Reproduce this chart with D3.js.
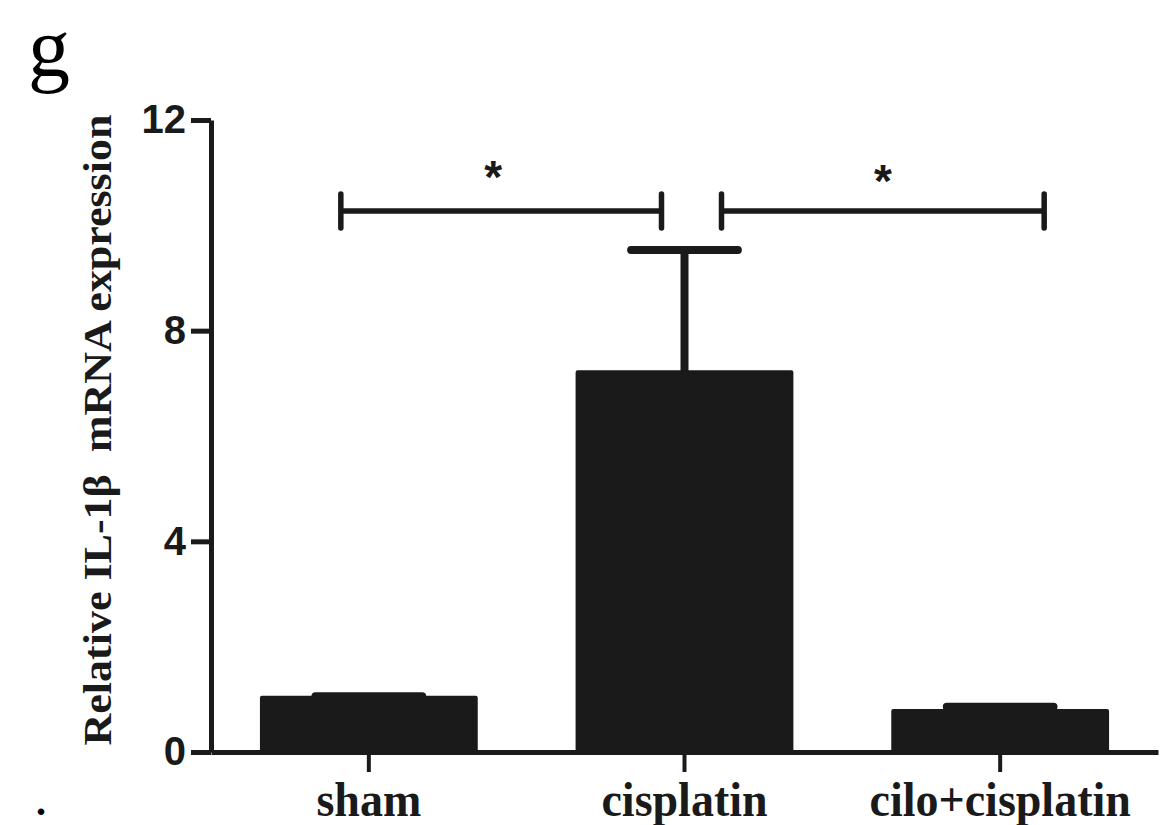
<!DOCTYPE html>
<html>
<head>
<meta charset="utf-8">
<script src="https://cdn.jsdelivr.net/npm/d3@7"></script>
<style>
  html, body { margin: 0; padding: 0; background: #ffffff; }
  svg { display: block; }
</style>
</head>
<body>
<svg id="chart" width="1172" height="825"></svg>
<script>
// ---- data ----
const categories = ["sham", "cisplatin", "cilo+cisplatin"];
const means = [1.03, 7.21, 0.78];
const sems = [0.03, 2.32, 0.08];
const yTicks = [0, 4, 8, 12];
const yLabel = "Relative IL-1\u03b2  mRNA expression";
const panelLabel = "g";
const sigFrom = ["sham", "cisplatin"];
const sigTo = ["cisplatin", "cilo+cisplatin"];
const sigLevel = [10.27, 10.27];
const sigText = ["*", "*"];

// ---- layout ----
const ink = "#1a1a1a";
const svg = d3.select("#chart");
const y = d3.scaleLinear().domain([0, 12]).range([752, 120]);
const x = d3.scaleBand().domain(categories).range([211, 1158])
  .paddingInner(0.31).paddingOuter(0.155);
const bw = x.bandwidth();
const cx = c => x(c) + bw / 2;

// bars
svg.append("g").selectAll("rect").data(categories).join("rect")
  .attr("x", d => x(d) + 2)
  .attr("width", bw - 4)
  .attr("y", (d, i) => y(means[i]))
  .attr("height", (d, i) => y(0) - y(means[i]))
  .attr("fill", ink).attr("stroke", ink)
  .attr("stroke-width", 4).attr("stroke-linejoin", "round");

// error bars (upper only)
const eg = svg.append("g").attr("stroke", ink).attr("stroke-width", 8).attr("stroke-linecap", "round");
categories.forEach((c, i) => {
  const top = y(means[i] + sems[i]);
  eg.append("line").attr("x1", cx(c)).attr("x2", cx(c))
    .attr("y1", y(means[i])).attr("y2", top).attr("stroke-linecap", "butt");
  const half = bw * 0.245;
  eg.append("line").attr("x1", cx(c) - half).attr("x2", cx(c) + half)
    .attr("y1", top).attr("y2", top);
});

// y axis
const yAxis = svg.append("g").attr("transform", "translate(211,0)")
  .call(d3.axisLeft(y).tickValues(yTicks).tickSize(20).tickSizeOuter(0).tickPadding(5).tickFormat(d3.format("d")));
yAxis.select(".domain").attr("stroke", ink).attr("stroke-width", 5);
yAxis.selectAll(".tick line").attr("stroke", ink).attr("stroke-width", 5);
yAxis.selectAll(".tick text").attr("fill", ink)
  .style("font-family", "'Liberation Sans', Arial, sans-serif")
  .style("font-weight", "bold").style("font-size", "40px");

// x axis
const xAxis = svg.append("g").attr("transform", "translate(0,752)")
  .call(d3.axisBottom(x).tickSize(20).tickSizeOuter(0).tickFormat(""));
xAxis.select(".domain").attr("stroke", ink).attr("stroke-width", 5);
xAxis.selectAll(".tick line").attr("stroke", ink).attr("stroke-width", 4);

// x labels
svg.append("g").selectAll("text").data(categories).join("text")
  .attr("transform", d => `translate(${cx(d)},816) scale(1,1.06)`)
  .attr("text-anchor", "middle").attr("fill", ink)
  .style("font-family", "'Liberation Serif', 'Times New Roman', serif")
  .style("font-weight", "bold").style("font-size", "46px")
  .text(d => d);

// y label
svg.append("text")
  .attr("transform", "translate(111,430) rotate(-90) scale(1,0.92)")
  .attr("text-anchor", "middle").attr("fill", ink)
  .style("white-space", "pre")
  .style("font-family", "'Liberation Serif', 'Times New Roman', serif")
  .style("font-weight", "bold").style("font-size", "44px")
  .text(yLabel);

// significance brackets
const offFrom = [-28, 37], offTo = [-23, 44];
const bg = svg.append("g").attr("stroke", ink).attr("stroke-width", 5.5).attr("fill", "none");
sigFrom.forEach((f, i) => {
  const x1 = cx(f) + offFrom[i], x2 = cx(sigTo[i]) + offTo[i], yy = y(sigLevel[i]);
  bg.append("line").attr("x1", x1).attr("x2", x2).attr("y1", yy).attr("y2", yy);
  [x1, x2].forEach(xx => bg.append("line").attr("x1", xx).attr("x2", xx)
    .attr("y1", yy - 17).attr("y2", yy + 17).attr("stroke-linecap", "round"));
  svg.append("text").attr("x", (x1 + x2) / 2 - (i === 0 ? 8 : 0)).attr("y", yy - 16 + (i === 0 ? -2 : 2))
    .attr("text-anchor", "middle").attr("fill", ink)
    .style("font-family", "'Liberation Sans', Arial, sans-serif")
    .style("font-weight", "bold").style("font-size", "46px")
    .text(sigText[i]);
});

// panel label and dot
svg.append("text").attr("x", 28).attr("y", 76).attr("fill", "#000")
  .style("font-family", "'Liberation Serif', 'Times New Roman', serif")
  .style("font-size", "84px").text(panelLabel);
svg.append("text").attr("x", 36).attr("y", 815).attr("fill", "#000")
  .style("font-family", "'Liberation Serif', 'Times New Roman', serif")
  .style("font-weight", "bold").style("font-size", "40px").text(".");
</script>
</body>
</html>
